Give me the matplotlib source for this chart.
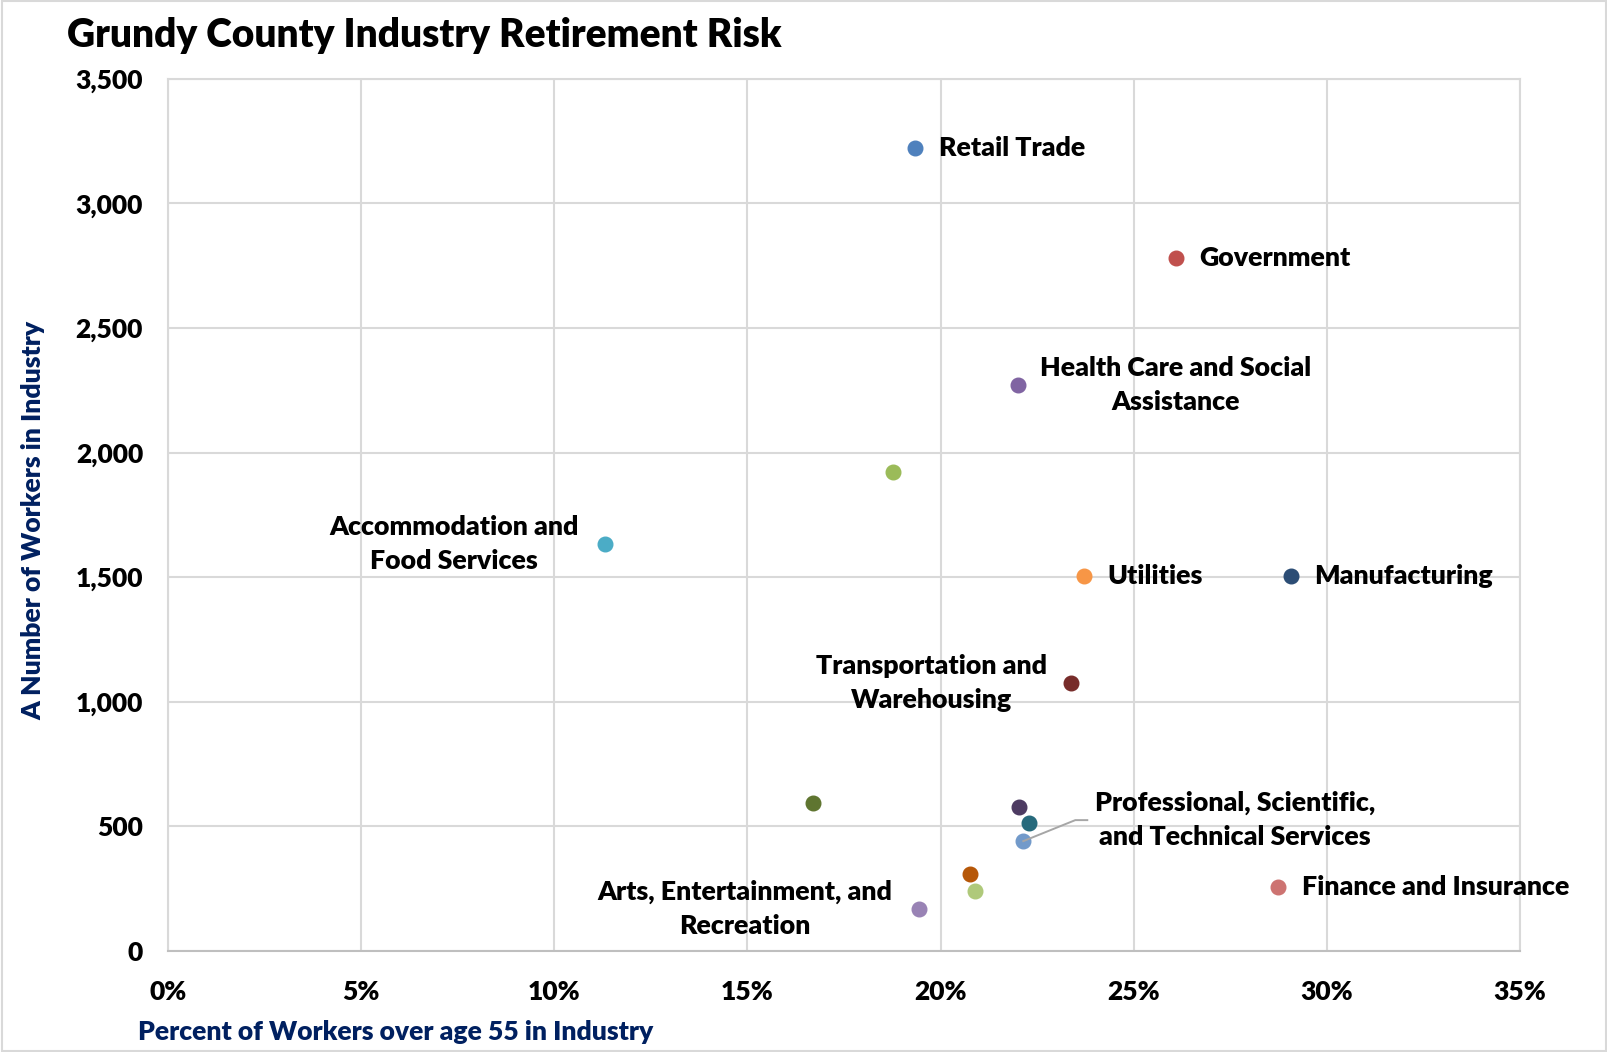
import matplotlib
matplotlib.use("Agg")
import matplotlib.pyplot as plt
from matplotlib.lines import Line2D
from matplotlib.patches import Rectangle
from matplotlib.ticker import FuncFormatter, MultipleLocator

# industry data
industries = [
    "Retail Trade", "Government", "Health Care and Social\nAssistance", "Unlabeled A",
    "Accommodation and\nFood Services", "Utilities", "Manufacturing",
    "Transportation and\nWarehousing", "Unlabeled B", "Unlabeled C", "Unlabeled D",
    "Professional, Scientific,\nand Technical Services", "Unlabeled E", "Unlabeled F",
    "Arts, Entertainment, and\nRecreation", "Finance and Insurance",
]
pct_over_55 = [19.33, 26.1, 22.0, 18.78, 11.32, 23.71, 29.07, 23.37,
               16.7, 22.04, 22.3, 22.14, 20.77, 20.9, 19.44, 28.73]
workers = [3221, 2780, 2273, 1923, 1635, 1503, 1503, 1075,
           593, 577, 515, 441, 309, 239, 169, 255]
colors = ["#4F81BD", "#C0504D", "#8064A2", "#9BBB59", "#4BACC6", "#F79646", "#2C4D75",
          "#772C2A", "#5F7530", "#4D3B62", "#276A7C", "#729ACA", "#B65708", "#AFC97A",
          "#9983B5", "#CD7371"]
show_label = [True, True, True, False, True, True, True, True,
              False, False, False, True, False, False, True, True]
# label placement (pixel offset from point, alignment)
label_pos = {
    0: (24, 0, "left"), 1: (23, 0, "left"), 2: (158, 0, "center"),
    4: (-151, 0, "center"), 5: (23, 0, "left"), 6: (23, 0, "left"),
    7: (-139, 0, "center"), 11: (212, 21, "center"), 14: (-174, 0, "center"),
    15: (24, 0, "left"),
}
W = 800  # heavy weight to mimic Calibri bold

plt.rcParams['font.family'] = ['Lato', 'DejaVu Sans']

fig = plt.figure(figsize=(16.08, 10.52), dpi=100)
ax = fig.add_axes([0.1045, 0.096, 0.8408, 0.829])
ax.set_xlim(0, 35)
ax.set_ylim(0, 3500)

for i in range(len(industries)):
    ax.plot(pct_over_55[i], workers[i], "o", color=colors[i], markersize=10.5,
            zorder=3, clip_on=False)
    if show_label[i]:
        dx, dy, ha = label_pos[i]
        ax.annotate(industries[i], (pct_over_55[i], workers[i]),
                    xytext=(dx, dy), textcoords="offset pixels",
                    ha=ha, va="center", fontsize=19.3, fontweight=W,
                    linespacing=1.5)

# leader line for Professional, Scientific, and Technical Services
px, py = ax.transData.transform((pct_over_55[11], workers[11]))
fig.add_artist(Line2D([px, px + 52, px + 64], [py, py + 21, py + 21],
                      transform=None, color="#A6A6A6", lw=1.4, zorder=2))

ax.xaxis.set_major_locator(MultipleLocator(5))
ax.yaxis.set_major_locator(MultipleLocator(500))
ax.xaxis.set_major_formatter(FuncFormatter(lambda v, p: f"{v:.0f}%"))
ax.yaxis.set_major_formatter(FuncFormatter(lambda v, p: f"{v:,.0f}"))
ax.grid(True, color="#D9D9D9", lw=1.5)
ax.set_axisbelow(True)
for s in ax.spines.values():
    s.set_color("#D9D9D9")
    s.set_linewidth(1.5)
ax.spines["bottom"].set_color("#BFBFBF")
ax.tick_params(length=0, labelsize=19)
ax.tick_params(axis="x", pad=21)
ax.tick_params(axis="y", pad=18)
for t in ax.get_xticklabels() + ax.get_yticklabels():
    t.set_fontweight(W)

fig.text(0.0417, 0.966, "Grundy County Industry Retirement Risk", fontsize=28,
         fontweight=W, ha="left", va="center")
fig.text(0.021, 0.505, "A Number of Workers in Industry", rotation=90, fontsize=19.1,
         fontweight=W, color="#002060", ha="center", va="center")
fig.text(0.0858, 0.019, "Percent of Workers over age 55 in Industry", fontsize=19.1,
         fontweight=W, color="#002060", ha="left", va="center")

fig.patches.append(Rectangle((0.001, 0.001), 0.998, 0.998, transform=fig.transFigure,
                             fill=False, edgecolor="#D9D9D9", lw=1.5))

fig.savefig("out.png", dpi=100)
